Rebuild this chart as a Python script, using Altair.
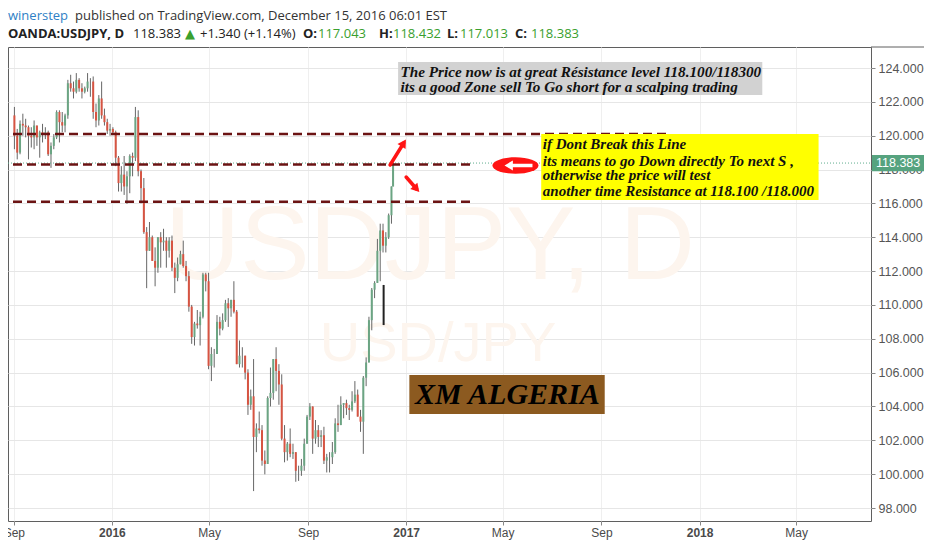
import altair as alt
import pandas as pd

# ---------------- candle data (two half-week candles per week) ----------------
dates = [
    "2015-09-01T18:00Z", "2015-09-05T06:00Z", "2015-09-08T18:00Z", "2015-09-12T06:00Z",
    "2015-09-15T18:00Z", "2015-09-19T06:00Z", "2015-09-22T18:00Z", "2015-09-26T06:00Z",
    "2015-09-29T18:00Z", "2015-10-03T06:00Z", "2015-10-06T18:00Z", "2015-10-10T06:00Z",
    "2015-10-13T18:00Z", "2015-10-17T06:00Z", "2015-10-20T18:00Z", "2015-10-24T06:00Z",
    "2015-10-27T18:00Z", "2015-10-31T06:00Z", "2015-11-03T18:00Z", "2015-11-07T06:00Z",
    "2015-11-10T18:00Z", "2015-11-14T06:00Z", "2015-11-17T18:00Z", "2015-11-21T06:00Z",
    "2015-11-24T18:00Z", "2015-11-28T06:00Z", "2015-12-01T18:00Z", "2015-12-05T06:00Z",
    "2015-12-08T18:00Z", "2015-12-12T06:00Z", "2015-12-15T18:00Z", "2015-12-19T06:00Z",
    "2015-12-22T18:00Z", "2015-12-26T06:00Z", "2015-12-29T18:00Z", "2016-01-02T06:00Z",
    "2016-01-05T18:00Z", "2016-01-09T06:00Z", "2016-01-12T18:00Z", "2016-01-16T06:00Z",
    "2016-01-19T18:00Z", "2016-01-23T06:00Z", "2016-01-26T18:00Z", "2016-01-30T06:00Z",
    "2016-02-02T18:00Z", "2016-02-06T06:00Z", "2016-02-09T18:00Z", "2016-02-13T06:00Z",
    "2016-02-16T18:00Z", "2016-02-20T06:00Z", "2016-02-23T18:00Z", "2016-02-27T06:00Z",
    "2016-03-01T18:00Z", "2016-03-05T06:00Z", "2016-03-08T18:00Z", "2016-03-12T06:00Z",
    "2016-03-15T18:00Z", "2016-03-19T06:00Z", "2016-03-22T18:00Z", "2016-03-26T06:00Z",
    "2016-03-29T18:00Z", "2016-04-02T06:00Z", "2016-04-05T18:00Z", "2016-04-09T06:00Z",
    "2016-04-12T18:00Z", "2016-04-16T06:00Z", "2016-04-19T18:00Z", "2016-04-23T06:00Z",
    "2016-04-26T18:00Z", "2016-04-30T06:00Z", "2016-05-03T18:00Z", "2016-05-07T06:00Z",
    "2016-05-10T18:00Z", "2016-05-14T06:00Z", "2016-05-17T18:00Z", "2016-05-21T06:00Z",
    "2016-05-24T18:00Z", "2016-05-28T06:00Z", "2016-05-31T18:00Z", "2016-06-04T06:00Z",
    "2016-06-07T18:00Z", "2016-06-11T06:00Z", "2016-06-14T18:00Z", "2016-06-18T06:00Z",
    "2016-06-21T18:00Z", "2016-06-25T06:00Z", "2016-06-28T18:00Z", "2016-07-02T06:00Z",
    "2016-07-05T18:00Z", "2016-07-09T06:00Z", "2016-07-12T18:00Z", "2016-07-16T06:00Z",
    "2016-07-19T18:00Z", "2016-07-23T06:00Z", "2016-07-26T18:00Z", "2016-07-30T06:00Z",
    "2016-08-02T18:00Z", "2016-08-06T06:00Z", "2016-08-09T18:00Z", "2016-08-13T06:00Z",
    "2016-08-16T18:00Z", "2016-08-20T06:00Z", "2016-08-23T18:00Z", "2016-08-27T06:00Z",
    "2016-08-30T18:00Z", "2016-09-03T06:00Z", "2016-09-06T18:00Z", "2016-09-10T06:00Z",
    "2016-09-13T18:00Z", "2016-09-17T06:00Z", "2016-09-20T18:00Z", "2016-09-24T06:00Z",
    "2016-09-27T18:00Z", "2016-10-01T06:00Z", "2016-10-04T18:00Z", "2016-10-08T06:00Z",
    "2016-10-11T18:00Z", "2016-10-15T06:00Z", "2016-10-18T18:00Z", "2016-10-22T06:00Z",
    "2016-10-25T18:00Z", "2016-10-29T06:00Z", "2016-11-01T18:00Z", "2016-11-05T06:00Z",
    "2016-11-08T18:00Z", "2016-11-12T06:00Z", "2016-11-15T18:00Z", "2016-11-19T06:00Z",
    "2016-11-22T18:00Z", "2016-11-26T06:00Z", "2016-11-29T18:00Z", "2016-12-03T06:00Z",
    "2016-12-06T18:00Z", "2016-12-10T06:00Z", "2016-12-13T18:00Z", "2016-12-15T18:00Z",
]

opens = [
    121.2, 120.0, 119.0, 120.7, 120.6, 120.5, 120.0, 119.9, 120.6, 119.9, 120.2, 120.1,
    120.2, 118.9, 119.4, 119.9, 121.4, 120.8, 120.6, 121.2, 123.1, 122.8, 122.6, 123.3,
    122.8, 122.6, 122.8, 123.2, 123.2, 121.4, 120.9, 122.2, 121.2, 120.8, 120.3, 120.4,
    120.2, 118.7, 117.2, 117.7, 117.0, 117.6, 118.8, 118.7, 121.1, 117.9, 116.9, 114.3,
    113.2, 114.0, 112.6, 112.2, 114.0, 113.7, 113.8, 113.2, 113.8, 112.2, 111.6, 112.4,
    113.0, 112.3, 111.7, 109.9, 108.1, 108.9, 108.8, 109.3, 111.8, 111.4, 106.4, 107.1,
    107.1, 109.0, 108.6, 109.1, 110.1, 109.8, 110.3, 109.6, 106.5, 107.0, 107.0, 106.0,
    104.1, 104.6, 102.2, 102.7, 102.6, 100.8, 100.6, 104.5, 104.8, 106.8, 106.1, 105.3,
    102.1, 101.3, 101.8, 101.2, 101.3, 100.2, 100.2, 100.5, 101.8, 103.4, 104.0, 102.1,
    102.6, 102.2, 102.3, 100.8, 101.0, 101.0, 101.3, 103.0, 102.9, 104.1, 104.2, 103.9,
    103.8, 104.3, 104.7, 103.4, 103.1, 105.7, 106.6, 109.1, 110.9, 111.3, 113.2, 114.4,
    113.5, 114.0, 115.3, 117.0,
]
highs = [
    121.7, 120.4, 120.9, 121.3, 121.0, 120.6, 120.5, 120.9, 120.6, 120.3, 120.7, 120.5,
    120.3, 119.6, 120.1, 121.5, 121.5, 121.4, 121.3, 123.3, 123.6, 123.2, 123.7, 123.4,
    123.1, 122.9, 123.7, 123.4, 123.5, 121.9, 122.4, 123.2, 121.6, 121.0, 120.7, 120.5,
    120.3, 118.8, 118.2, 118.8, 117.9, 118.9, 119.0, 121.7, 121.5, 118.0, 117.5, 114.6,
    114.9, 114.1, 113.4, 114.0, 114.3, 114.5, 114.0, 114.0, 114.1, 112.5, 112.8, 113.2,
    113.8, 112.6, 112.0, 110.0, 109.0, 109.7, 109.6, 111.9, 111.9, 111.9, 107.5, 107.4,
    109.4, 109.3, 109.5, 110.3, 110.4, 110.3, 111.4, 109.7, 107.9, 107.5, 107.0, 106.2,
    105.0, 106.8, 103.0, 103.7, 102.9, 101.4, 104.6, 106.3, 106.8, 107.5, 106.5, 105.9,
    102.9, 101.9, 102.7, 101.8, 101.3, 100.5, 100.9, 102.1, 103.5, 104.2, 104.0, 103.2,
    102.9, 102.6, 102.8, 101.2, 101.3, 101.9, 103.3, 104.1, 104.6, 104.2, 104.4, 104.1,
    104.9, 105.5, 105.0, 103.8, 105.8, 106.9, 109.3, 111.0, 111.4, 113.9, 114.8, 114.8,
    114.3, 115.4, 117.0, 118.43,
]
lows = [
    119.2, 118.6, 118.9, 120.0, 119.9, 118.6, 119.3, 119.2, 119.4, 118.7, 119.6, 119.8,
    118.8, 118.1, 119.2, 119.8, 119.6, 120.2, 120.2, 121.0, 122.6, 122.2, 122.5, 122.6,
    122.2, 122.5, 122.6, 122.3, 121.0, 120.5, 120.6, 121.0, 120.6, 120.1, 120.0, 120.1,
    118.2, 116.7, 116.7, 116.5, 115.97, 116.6, 117.6, 118.5, 117.6, 116.0, 114.2, 110.99,
    113.2, 112.6, 111.1, 111.9, 112.2, 113.2, 112.2, 112.8, 112.0, 110.7, 111.4, 112.4,
    112.2, 111.4, 109.6, 107.7, 107.6, 108.6, 107.6, 109.2, 110.8, 106.2, 105.5, 106.3,
    107.1, 108.2, 108.5, 109.0, 108.7, 109.3, 109.5, 106.5, 106.3, 106.3, 105.6, 103.5,
    103.8, 99.0, 101.3, 102.4, 100.5, 99.99, 100.6, 104.0, 104.4, 104.9, 104.1, 102.0,
    100.7, 100.8, 101.0, 100.9, 99.55, 99.6, 99.9, 100.2, 101.8, 103.2, 101.2, 101.8,
    101.6, 101.6, 100.6, 100.1, 100.1, 100.6, 101.2, 102.5, 102.9, 103.3, 103.5, 103.2,
    103.7, 104.2, 103.4, 102.5, 101.2, 105.2, 106.6, 108.5, 110.4, 111.3, 111.4, 113.1,
    113.1, 113.9, 114.8, 117.0,
]
closes = [
    120.0, 119.0, 120.7, 120.6, 120.5, 120.0, 119.9, 120.6, 119.9, 120.2, 120.1, 120.2,
    118.9, 119.4, 119.9, 121.4, 120.8, 120.6, 121.2, 123.1, 122.8, 122.6, 123.3, 122.8,
    122.6, 122.8, 123.2, 123.2, 121.4, 120.9, 122.2, 121.2, 120.8, 120.3, 120.4, 120.2,
    118.7, 117.2, 117.7, 117.0, 117.6, 118.8, 118.7, 121.1, 117.9, 116.9, 114.3, 113.2,
    114.0, 112.6, 112.2, 114.0, 113.7, 113.8, 113.2, 113.8, 112.2, 111.6, 112.4, 113.0,
    112.3, 111.7, 109.9, 108.1, 108.9, 108.8, 109.3, 111.8, 111.4, 106.4, 107.1, 107.1,
    109.0, 108.6, 109.1, 110.1, 109.8, 110.3, 109.6, 106.5, 107.0, 107.0, 106.0, 104.1,
    104.6, 102.2, 102.7, 102.6, 100.8, 100.6, 104.5, 104.8, 106.8, 106.1, 105.3, 102.1,
    101.3, 101.8, 101.2, 101.3, 100.2, 100.2, 100.5, 101.8, 103.4, 104.0, 102.1, 102.6,
    102.2, 102.3, 100.8, 101.0, 101.0, 101.3, 103.0, 102.9, 104.1, 104.2, 103.9, 103.8,
    104.3, 104.7, 103.4, 103.1, 105.7, 106.6, 109.1, 110.9, 111.3, 113.2, 114.4, 113.5,
    114.0, 115.3, 117.0, 118.383,
]

candles = pd.DataFrame({"date": dates, "open": opens, "high": highs,
                        "low": lows, "close": closes})

# ---------------- axes ----------------
tick_months = [(2015, 9), (2016, 1), (2016, 5), (2016, 9), (2017, 1),
               (2017, 5), (2017, 9), (2018, 1), (2018, 5)]
price_ticks = [98, 100, 102, 104, 106, 108, 110, 112, 114, 116, 118, 120, 122, 124]
x_start = (2015, 8, 31)
x_end = (2018, 7, 27)
y_domain = [97.232, 125.241]

# ---------------- drawings ----------------
dash_start = ["2015-08-31", "2015-08-31", "2015-08-31"]
dash_end = ["2017-11-22", "2017-03-24", "2017-03-25"]
dash_price = [120.1, 118.3, 116.1]

last_price = 118.383
last_price_text = "118.383"

gray_box = {"x1": "2016-12-22", "x2": "2018-03-20", "y1": 124.355, "y2": 122.405}
gray_text_x = "2016-12-25"
gray_lines = ["The Price now is at great Résistance level 118.100/118300",
              "its a good Zone sell To Go short for a scalping trading"]
gray_line_y = [123.78, 122.86]

yellow_box = {"x1": "2017-06-18", "x2": "2018-05-29", "y1": 120.10, "y2": 116.20}
yellow_text_x = "2017-06-20"
yellow_lines = ["if Dont Break this Line",
                "its means to go Down directly To next S ,",
                "otherwise the price will test",
                "another time Resistance at 118.100 /118.000"]
yellow_line_y = [119.49, 118.50, 117.68, 116.75]

xm_box = {"x1": "2017-01-05", "x2": "2017-09-05", "y1": 105.86, "y2": 103.55}
xm_text = "XM ALGERIA"
xm_text_pos = ("2017-05-07", 104.68)

ellipse_pos = ("2017-05-17", 118.24)
arrow_up = {"x1": "2016-12-12", "y1": 118.27, "x2": "2016-12-29", "y2": 119.57}
arrow_down = {"x1": "2017-01-01", "y1": 117.56, "x2": "2017-01-14", "y2": 116.85}
black_mark = {"x": "2016-12-04", "y1": 111.18, "y2": 108.81}

UP = "#6ba583"
DOWN = "#d75442"
WICK = "#666666"
DASH = "#6b1313"
RED = "#ff1414"
SERIF = "Liberation Serif"
SANS = "Liberation Sans"
WATERMARK = "#fdf5ee"

one = pd.DataFrame({"k": [0]})

xs = alt.Scale(type="utc", nice=False, domain=[
    alt.DateTime(year=x_start[0], month=x_start[1], date=x_start[2], utc=True),
    alt.DateTime(year=x_end[0], month=x_end[1], date=x_end[2], utc=True)])
ys = alt.Scale(domain=y_domain, nice=False, zero=False)

xaxis = alt.Axis(
    title=None,
    values=[alt.DateTime(year=y, month=m, date=1, utc=True) for y, m in tick_months],
    labelExpr="utcmonth(datum.value) == 0 ? utcFormat(datum.value, '%Y') : utcFormat(datum.value, '%b')",
    labelFontWeight={"condition": {"test": "utcmonth(datum.value) == 0", "value": "bold"},
                     "value": "normal"},
    labelFlush=False, labelOverlap=False, grid=True, gridColor="#efefef",
    tickSize=4, tickColor="#888888", domain=False, labelColor="#4a4a4a",
    labelFontSize=12, labelFont=SANS, labelPadding=2)
yaxis = alt.Axis(
    title=None, orient="right", values=price_ticks, format=".3f", grid=True,
    gridColor="#e6e6e6", tickSize=4, tickColor="#888888", domain=False,
    labelColor="#555555", labelFontSize=12.5, labelFont=SANS, labelPadding=3)


def X(field, **kw):
    return alt.X(field, scale=xs, axis=xaxis, **kw)


def Y(field, **kw):
    return alt.Y(field, scale=ys, axis=yaxis, **kw)


layers = []

# watermark
layers.append(alt.Chart(one).mark_text(
    text="USDJPY, D", font=SANS, fontSize=104, color=WATERMARK,
    align="center", baseline="middle").encode(x=alt.value(422), y=alt.value(201)))
layers.append(alt.Chart(one).mark_text(
    text="USD/JPY", font=SANS, fontSize=56, color=WATERMARK,
    align="center", baseline="middle").encode(x=alt.value(430), y=alt.value(297)))

# candles
layers.append(alt.Chart(candles).mark_rule(color=WICK, strokeWidth=1).encode(
    x=X("date:T"), y=Y("low:Q"), y2="high:Q"))
layers.append(alt.Chart(candles).mark_bar(size=2).encode(
    x=X("date:T"), y=Y("open:Q"), y2="close:Q",
    color=alt.condition("datum.close >= datum.open", alt.value(UP), alt.value(DOWN))))

# current price line
layers.append(alt.Chart(one).mark_rule(color="#5fae8e", strokeDash=[1, 2], strokeWidth=1).encode(
    x=alt.value(0), x2=alt.value(863), y=alt.Y(datum=last_price, scale=ys, axis=yaxis)))

# dashed levels
dash_df = pd.DataFrame({"start": dash_start, "end": dash_end, "price": dash_price})
layers.append(alt.Chart(dash_df).mark_rule(color=DASH, strokeWidth=2.6, strokeDash=[9, 5]).encode(
    x=X("start:T"), x2="end:T", y=Y("price:Q")))

# black vertical mark
bm = pd.DataFrame([black_mark])
layers.append(alt.Chart(bm).mark_rule(color="#222222", strokeWidth=2).encode(
    x=X("x:T"), y=Y("y1:Q"), y2="y2:Q"))


def box(b, fill):
    return alt.Chart(pd.DataFrame([b])).mark_rect(color=fill).encode(
        x=X("x1:T"), x2="x2:T", y=Y("y1:Q"), y2="y2:Q")


def lines_text(xd, texts, ys_, size):
    df = pd.DataFrame({"d": [xd] * len(texts), "p": ys_, "t": texts})
    return alt.Chart(df).mark_text(
        align="left", baseline="middle", font=SERIF, fontStyle="italic",
        fontWeight="bold", fontSize=size, color="#111111").encode(
        x=X("d:T"), y=Y("p:Q"), text="t:N")


layers.append(box(gray_box, "#d2d2d2"))
layers.append(lines_text(gray_text_x, gray_lines, gray_line_y, 15.2))
layers.append(box(yellow_box, "#ffff00"))
layers.append(lines_text(yellow_text_x, yellow_lines, yellow_line_y, 15))
layers.append(box(xm_box, "#8c5a20"))
xm_df = pd.DataFrame({"d": [xm_text_pos[0]], "p": [xm_text_pos[1]], "t": [xm_text]})
layers.append(alt.Chart(xm_df).mark_text(
    align="center", baseline="middle", font=SERIF, fontStyle="italic",
    fontWeight="bold", fontSize=30, color="#000000").encode(
    x=X("d:T"), y=Y("p:Q"), text="t:N"))

# red ellipse with white arrow
ell_df = pd.DataFrame({"d": [ellipse_pos[0]], "p": [ellipse_pos[1]]})
layers.append(alt.Chart(ell_df).mark_point(
    shape="M-1,0A1,0.36 0 1,1 1,0A1,0.36 0 1,1 -1,0Z", size=2116,
    filled=True, color=RED, opacity=1).encode(x=X("d:T"), y=Y("p:Q")))
layers.append(alt.Chart(ell_df).mark_point(
    shape="M-1,0L-0.4,-0.36L-0.4,-0.12L1,-0.12L1,0.12L-0.4,0.12L-0.4,0.36Z", size=784,
    filled=True, color="#ffffff", opacity=1, xOffset=3).encode(x=X("d:T"), y=Y("p:Q")))

# red arrows
for arr, ang in [(arrow_up, 32), (arrow_down, 138)]:
    adf = pd.DataFrame([arr])
    layers.append(alt.Chart(adf).mark_rule(color=RED, strokeWidth=3.5, strokeCap="round").encode(
        x=X("x1:T"), x2="x2:T", y=Y("y1:Q"), y2="y2:Q"))
    layers.append(alt.Chart(adf).mark_point(
        shape="triangle-up", size=90, filled=True, color=RED, opacity=1, angle=ang).encode(
        x=X("x2:T"), y=Y("y2:Q")))

# price label on the axis
layers.append(alt.Chart(one).mark_point(
    shape="M-1,-0.27H1V0.27H-1Z", size=3600, filled=True, color="#56a37f", opacity=1).encode(
    x=alt.value(894), y=alt.Y(datum=last_price, scale=ys, axis=yaxis)))
layers.append(alt.Chart(one).mark_text(
    text=last_price_text, align="left", baseline="middle", font=SANS, fontSize=12.5,
    color="#ffffff").encode(x=alt.value(868), y=alt.Y(datum=last_price, scale=ys, axis=yaxis)))

# top frame line over the price axis column
layers.append(alt.Chart(one).mark_rule(color="#5f5f5f", strokeWidth=1).encode(
    x=alt.value(863), x2=alt.value(916), y=alt.value(0)))

# ---------------- header ----------------
HDR = "Open Sans"
header1 = [("winerstep", 0, "#2f7fc6", "normal"),
           ("published on TradingView.com, December 15, 2016 06:01 EST", 67, "#333333", "normal")]
header2 = [("OANDA:USDJPY, D", 0, "#222222", "bold"),
           ("118.383", 125, "#222222", "normal"),
           ("+1.340 (+1.14%)", 192, "#222222", "normal"),
           ("O:", 295, "#222222", "bold"), ("117.043", 310, "#3aa02e", "normal"),
           ("H:", 371, "#222222", "bold"), ("118.432", 385, "#3aa02e", "normal"),
           ("L:", 439, "#222222", "bold"), ("117.013", 452, "#3aa02e", "normal"),
           ("C:", 507, "#222222", "bold"), ("118.383", 523, "#3aa02e", "normal")]
for t, px, c, w in header1:
    layers.append(alt.Chart(one).mark_text(
        text=t, align="left", baseline="alphabetic", font=HDR, fontSize=13,
        fontWeight=w, color=c).encode(x=alt.value(px), y=alt.value(-27)))
for t, px, c, w in header2:
    layers.append(alt.Chart(one).mark_text(
        text=t, align="left", baseline="alphabetic", font=HDR, fontSize=13,
        fontWeight=w, color=c).encode(x=alt.value(px), y=alt.value(-9)))
layers.append(alt.Chart(one).mark_text(
    text="▲", align="left", baseline="alphabetic", font="DejaVu Sans", fontSize=13,
    color="#3aa02e").encode(x=alt.value(177), y=alt.value(-9)))

chart = alt.layer(*layers).properties(
    width=863, height=474,
    padding={"left": 0, "top": 39, "right": 53, "bottom": 19},
    autosize=alt.AutoSizeParams(type="none"),
    background="#ffffff",
).configure_view(stroke="#5f5f5f", strokeWidth=1)

chart.save("out.html", embed_options={"renderer": "svg", "actions": False})
